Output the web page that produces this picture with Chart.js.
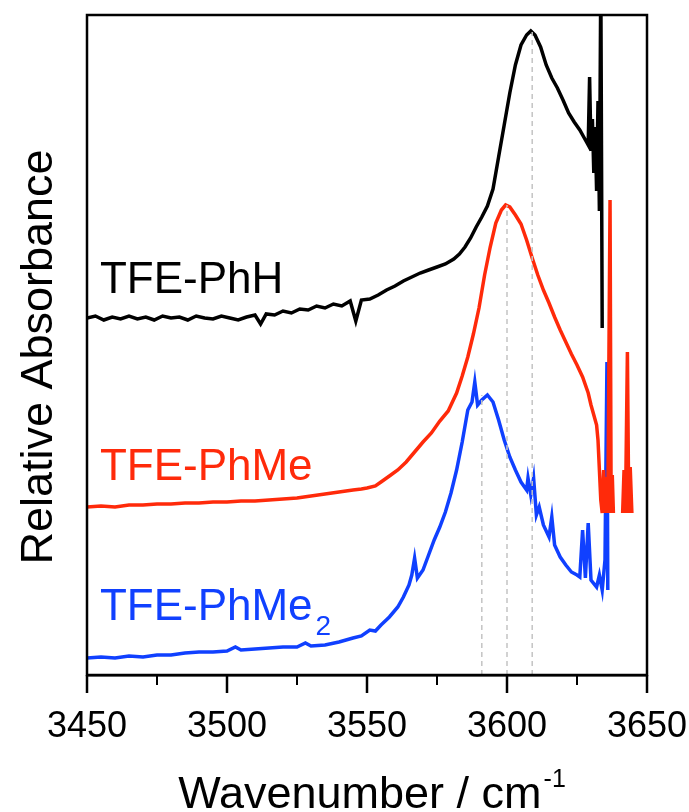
<!DOCTYPE html>
<html>
<head>
<meta charset="utf-8">
<title>TFE O-H stretch</title>
<script src="https://cdn.jsdelivr.net/npm/chart.js@4.4.0/dist/chart.umd.min.js"></script>
<style>
  html, body { margin: 0; padding: 0; background: #fff; }
  #wrap { width: 689px; height: 812px; }
</style>
</head>
<body>
<div id="wrap"><canvas id="chart" width="689" height="812"></canvas></div>
<script>
const FONT = "'Liberation Sans', Arial, sans-serif";

// --- data (wavenumber in cm-1, absorbance in arbitrary offset units) ---
const phhWave = [3450, 3453, 3456, 3459, 3462, 3465, 3468, 3471, 3474, 3477, 3480, 3483, 3486, 3489, 3492,
  3495, 3498, 3501, 3504, 3507, 3510, 3512, 3514, 3517, 3520, 3523, 3526, 3529, 3532, 3535, 3538, 3541,
  3544, 3546, 3548, 3551, 3554, 3557, 3560, 3563, 3566, 3569, 3572, 3575, 3578, 3581, 3583, 3585, 3587,
  3589, 3591, 3593, 3595, 3597, 3599, 3601, 3603, 3605, 3607, 3608.5, 3610, 3612, 3614, 3616, 3618, 3620,
  3622, 3624, 3626, 3628, 3629, 3629.5, 3630, 3630.5, 3631, 3631.5, 3632, 3632.5, 3633, 3633.5, 3634];
const phhAbs = [35.7, 35.9, 35.5, 35.8, 35.6, 35.9, 35.6, 35.8, 35.5, 35.9, 35.7, 35.8, 35.5, 35.9, 35.7,
  35.6, 35.9, 35.7, 35.5, 35.8, 36.0, 35.1, 36.1, 36.0, 36.4, 36.2, 36.6, 36.5, 36.9, 36.7, 37.1, 36.9,
  37.4, 35.4, 37.5, 37.6, 38.0, 38.5, 38.9, 39.4, 39.8, 40.2, 40.5, 40.8, 41.1, 41.6, 42.1, 42.8, 43.7,
  44.8, 45.8, 46.9, 48.6, 51.8, 55.0, 58.2, 61.0, 63.0, 64.0, 64.4, 64.0, 62.8, 61.0, 59.7, 58.7, 57.5,
  56.2, 55.3, 54.5, 53.5, 53.0, 59.8, 52.4, 55.6, 50.2, 54.8, 48.4, 57.4, 46.4, 70.0, 34.7];

const phmeWave = [3450, 3455, 3460, 3465, 3470, 3475, 3480, 3485, 3490, 3495, 3500, 3505, 3510, 3515, 3520,
  3525, 3530, 3535, 3540, 3545, 3548, 3550, 3553, 3555, 3558, 3561, 3564, 3567, 3570, 3573, 3576, 3579,
  3582, 3584, 3586, 3588, 3590, 3592, 3594, 3596, 3598, 3599.5, 3601, 3603, 3605, 3607, 3609, 3611, 3613,
  3615, 3617, 3619, 3621, 3623, 3625, 3627, 3629, 3630, 3631, 3632, 3632.5, 3633, 3633.5, 3634, 3634.5,
  3635, 3635.5, 3636, 3636.8, 3637.2, 3637.6, 3638, 3638.5, 3641.3, 3641.8, 3642.3, 3643, 3643.5, 3644, 3644.6];
const phmeAbs = [16.8, 16.9, 16.8, 17.0, 17.0, 17.1, 17.1, 17.2, 17.2, 17.3, 17.3, 17.4, 17.4, 17.5, 17.6,
  17.7, 17.9, 18.1, 18.3, 18.5, 18.6, 18.7, 18.9, 19.3, 19.9, 20.5, 21.3, 22.3, 23.3, 24.2, 25.4, 26.4,
  28.2, 29.9, 31.8, 34.1, 36.7, 40.0, 42.8, 45.2, 46.5, 47.0, 46.8, 46.0, 45.1, 43.5, 41.7, 40.0, 38.5,
  37.2, 35.8, 34.5, 33.3, 32.1, 31.0, 29.8, 28.2, 27.0, 26.0, 25.0, 23.5, 20.5, 17.5, 16.2, 20.5,
  16.2, 19.8, 16.2, 47.5, 16.2, 20.0, 16.2, null, 16.2, 20.5, 16.2, 32.3, 16.2, 20.8, 16.2];

const phme2Wave = [3450, 3455, 3460, 3465, 3470, 3475, 3480, 3485, 3490, 3495, 3500, 3503, 3505, 3510, 3515,
  3520, 3525, 3528, 3530, 3535, 3540, 3545, 3548, 3551, 3553, 3555, 3558, 3561, 3563, 3565, 3566, 3567,
  3568, 3570, 3572, 3574, 3576, 3578, 3580, 3582, 3584, 3586, 3587.5, 3588.5, 3589.5, 3591, 3593, 3595,
  3597, 3599, 3601, 3603, 3605, 3607, 3607.5, 3608.5, 3609.5, 3610.5, 3611.5, 3613, 3615, 3616, 3617,
  3619, 3621, 3623, 3625, 3626, 3627, 3628, 3629, 3630, 3632, 3633, 3634, 3635, 3635.7, 3636];
const phme2Abs = [1.7, 1.8, 1.7, 1.9, 1.8, 2.0, 2.0, 2.2, 2.3, 2.3, 2.4, 2.8, 2.5, 2.6, 2.7,
  2.8, 2.8, 3.2, 2.9, 3.0, 3.3, 3.7, 3.9, 4.5, 4.4, 5.0, 5.8, 6.8, 7.8, 9.0, 10.0, 11.7,
  9.7, 10.5, 12.0, 13.5, 14.8, 16.3, 18.2, 20.5, 23.3, 26.5, 27.3, 29.3, 27.0, 27.5, 28.0, 27.3,
  25.5, 23.5, 21.8, 20.5, 19.3, 18.5, 19.7, 18.0, 19.7, 16.0, 16.8, 15.0, 13.8, 15.8, 13.0,
  11.8, 11.0, 10.3, 10.0, 9.8, 14.5, 9.7, 15.2, 9.5, 8.8, 10.0, 8.5, 11.5, 31.3, 8.5];

// dashed guide lines at the band maxima
const peakWave = [3591, 3600, 3609];
const peakTop = [28.0, 47.0, 64.3];

const majorTicks = [3450, 3500, 3550, 3600, 3650];
const minorTicks = [3475, 3525, 3575, 3625];

const curveLabels = [
  { text: 'TFE-PhH', sub: '', color: '#000000', w: 3454.6, a: 38.2 },
  { text: 'TFE-PhMe', sub: '', color: '#ff2a0a', w: 3454.6, a: 19.5 },
  { text: 'TFE-PhMe', sub: '2', color: '#1040ff', w: 3454.6, a: 5.5 }
];

function toPoints(xs, ys) {
  return xs.map((v, i) => ({ x: v, y: ys[i] }));
}

const guideSets = peakWave.map((w, i) => ({
  data: [{ x: w, y: 0 }, { x: w, y: peakTop[i] }],
  borderColor: '#c4c4c4',
  borderWidth: 1.5,
  borderDash: [5, 4],
  pointRadius: 0
}));

// --- frame, tick marks and in-plot text ---
const decorations = {
  id: 'decorations',
  afterDraw(chart) {
    const { ctx, chartArea: a, scales: { x, y } } = chart;
    ctx.save();
    ctx.strokeStyle = '#000';
    ctx.lineWidth = 2.5;
    ctx.strokeRect(a.left, a.top, a.right - a.left, a.bottom - a.top);

    const tick = (v, len) => {
      const px = x.getPixelForValue(v);
      ctx.beginPath();
      ctx.moveTo(px, a.bottom);
      ctx.lineTo(px, a.bottom + len);
      ctx.stroke();
    };
    ctx.lineWidth = 2.5;
    majorTicks.forEach(v => tick(v, 18));
    ctx.lineWidth = 2;
    minorTicks.forEach(v => tick(v, 10));

    ctx.textBaseline = 'alphabetic';
    ctx.textAlign = 'left';
    curveLabels.forEach(l => {
      const px = x.getPixelForValue(l.w);
      const py = y.getPixelForValue(l.a);
      ctx.fillStyle = l.color;
      ctx.font = `44px ${FONT}`;
      ctx.fillText(l.text, px, py);
      if (l.sub) {
        const wMain = ctx.measureText(l.text).width;
        ctx.font = `28px ${FONT}`;
        ctx.fillText(l.sub, px + wMain + 3, py + 15);
      }
    });

    // y title
    ctx.fillStyle = '#000';
    ctx.save();
    ctx.translate(a.left - 35, (a.top + a.bottom) / 2 + 12);
    ctx.rotate(-Math.PI / 2);
    ctx.textAlign = 'center';
    ctx.font = `45px ${FONT}`;
    ctx.fillText('Relative Absorbance', 0, 0);
    ctx.restore();

    // x title with superscript
    ctx.font = `45px ${FONT}`;
    const main = 'Wavenumber / cm';
    const wMain = ctx.measureText(main).width;
    ctx.font = `25px ${FONT}`;
    const wSup = ctx.measureText('-1').width;
    const startX = (a.left + a.right) / 2 + 5 - (wMain + 2 + wSup) / 2;
    ctx.font = `45px ${FONT}`;
    ctx.fillText(main, startX, 808);
    ctx.font = `25px ${FONT}`;
    ctx.fillText('-1', startX + wMain + 2, 787);
    ctx.restore();
  }
};

new Chart(document.getElementById('chart'), {
  type: 'line',
  data: {
    datasets: [
      ...guideSets,
      { label: 'TFE-PhH', data: toPoints(phhWave, phhAbs), borderColor: '#000000', borderWidth: 3.5, pointRadius: 0 },
      { label: 'TFE-PhMe', data: toPoints(phmeWave, phmeAbs), borderColor: '#ff2a0a', borderWidth: 3.5, pointRadius: 0, spanGaps: false },
      { label: 'TFE-PhMe2', data: toPoints(phme2Wave, phme2Abs), borderColor: '#1040ff', borderWidth: 3.5, pointRadius: 0 }
    ]
  },
  options: {
    responsive: false,
    devicePixelRatio: 1,
    animation: false,
    layout: { padding: { left: 87, right: 42, top: 15, bottom: 0 } },
    plugins: { legend: { display: false }, tooltip: { enabled: false } },
    scales: {
      x: {
        type: 'linear',
        min: 3450,
        max: 3650,
        afterFit(scale) {
          scale.height = 137;
          scale.paddingLeft = 0;
          scale.paddingRight = 0;
        },
        ticks: {
          stepSize: 50,
          color: '#000',
          font: { family: FONT, size: 36 },
          padding: 30,
          maxRotation: 0,
          callback: v => String(v)
        },
        grid: { display: false, drawTicks: false },
        border: { display: true, color: '#000', width: 2.5 }
      },
      y: {
        display: false,
        min: 0,
        max: 66
      }
    }
  },
  plugins: [decorations]
});
</script>
</body>
</html>
